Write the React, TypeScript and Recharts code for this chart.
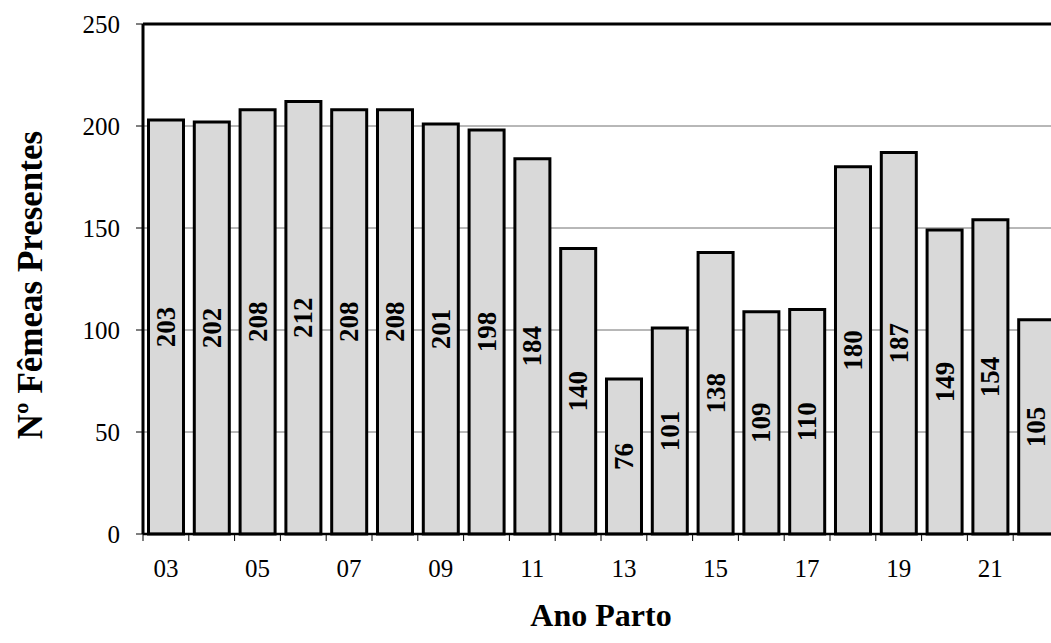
import React from "react";
import {
  BarChart,
  Bar,
  XAxis,
  YAxis,
  CartesianGrid,
  ReferenceLine,
  LabelList,
} from "recharts";

const categories = ["03", "04", "05", "06", "07", "08", "09", "10", "11", "12", "13", "14", "15", "16", "17", "18", "19", "20", "21", "22"];
const femeas = [203, 202, 208, 212, 208, 208, 201, 198, 184, 140, 76, 101, 138, 109, 110, 180, 187, 149, 154, 105];
const yTicks = [0, 50, 100, 150, 200, 250];
const xTitle = "Ano Parto";
const yTitle = "Nº Fêmeas Presentes";

const data = categories.map((c, i) => ({ ano: c, valor: femeas[i] }));

const FONT = "'Liberation Serif', 'Times New Roman', serif";

const XTick = (props: any) => {
  const { x, y, payload, index } = props;
  const off = payload && typeof payload.offset === "number" ? payload.offset : 22.9;
  return (
    <g>
      <line x1={x - off} x2={x - off} y1={y} y2={y + 7} stroke="#000" strokeWidth={1} />
      {index % 2 === 0 && (
        <text x={x} y={y + 43} textAnchor="middle" fontFamily={FONT} fontSize={25} fill="#000">
          {payload.value}
        </text>
      )}
    </g>
  );
};

const BarLabel = (props: any) => {
  const { x, y, width, height, value } = props;
  const cx = x + width / 2;
  const cy = y + height / 2;
  return (
    <text
      x={cx}
      y={cy}
      transform={`rotate(-90, ${cx}, ${cy})`}
      textAnchor="middle"
      dominantBaseline="central"
      fontFamily={FONT}
      fontWeight="bold"
      fontSize={27}
      fill="#000"
    >
      {value}
    </text>
  );
};

const YTitle = (props: any) => {
  const { viewBox } = props;
  const cy = viewBox.y + viewBox.height / 2 + 6;
  const cx = 30;
  return (
    <text
      x={cx}
      y={cy}
      transform={`rotate(-90, ${cx}, ${cy})`}
      textAnchor="middle"
      dominantBaseline="central"
      fontFamily={FONT}
      fontWeight="bold"
      fontSize={35}
      fill="#000"
    >
      {yTitle}
    </text>
  );
};

const XTitle = (props: any) => {
  const { viewBox } = props;
  const cx = viewBox.x + viewBox.width / 2;
  return (
    <text
      x={cx}
      y={626}
      textAnchor="middle"
      fontFamily={FONT}
      fontWeight="bold"
      fontSize={32}
      fill="#000"
    >
      {xTitle}
    </text>
  );
};

export default function App() {
  return (
    <div
      style={{
        position: "fixed",
        left: 0,
        top: 0,
        width: 1051,
        height: 643,
        overflow: "hidden",
        background: "#fff",
      }}
    >
      <BarChart
        width={1070}
        height={643}
        data={data}
        margin={{ top: 24, right: 11, bottom: 0, left: 0 }}
        barCategoryGap="12%"
      >
        <CartesianGrid vertical={false} stroke="#707070" strokeWidth={1} />
        <XAxis
          dataKey="ano"
          interval={0}
          tickLine={false}
          tickSize={0}
          tickMargin={0}
          axisLine={{ stroke: "#000", strokeWidth: 2.5 }}
          tick={<XTick />}
          height={109}
          label={<XTitle />}
        />
        <YAxis
          width={143}
          domain={[0, 250]}
          ticks={yTicks}
          interval={0}
          tickSize={7}
          tickMargin={16}
          tickLine={{ stroke: "#000", strokeWidth: 1 }}
          axisLine={{ stroke: "#000", strokeWidth: 3 }}
          tick={{ fontFamily: FONT, fontSize: 25, fill: "#000" }}
          label={<YTitle />}
        />
        <ReferenceLine y={250} stroke="#000" strokeWidth={3} />
        <Bar
          dataKey="valor"
          fill="#d9d9d9"
          stroke="#000"
          strokeWidth={3}
          isAnimationActive={false}
        >
          <LabelList dataKey="valor" content={<BarLabel />} />
        </Bar>
      </BarChart>
    </div>
  );
}
